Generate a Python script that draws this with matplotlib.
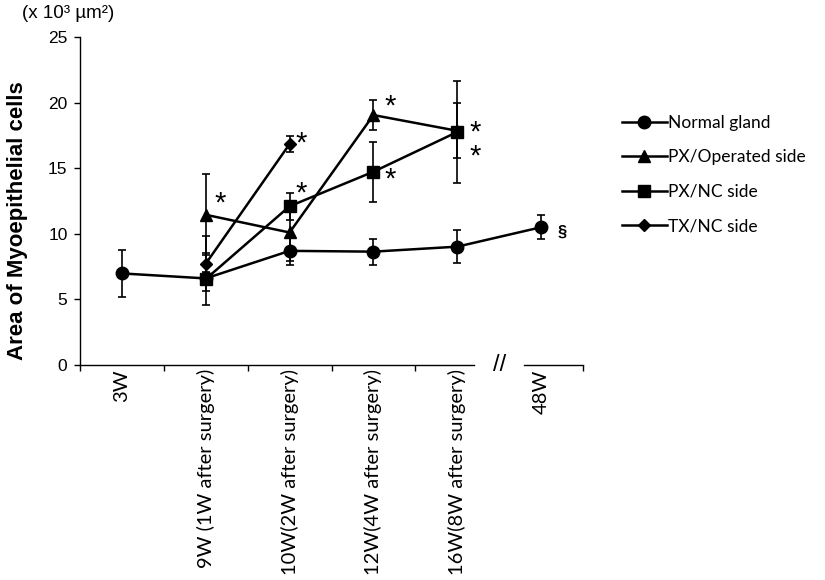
import numpy as np
import matplotlib
matplotlib.use('Agg')
from matplotlib import pyplot as plt

# 数据
weeks = ['3W', '9W (1W after surgery)', '10W(2W after surgery)',
         '12W(4W after surgery)', '16W(8W after surgery)', '48W']
normal = [6.98, 6.6, 8.7, 8.64, 9.02, 10.5]
normal_err = [1.78, 0.5, 1.1, 1.0, 1.27, 0.92]
px_op = [np.nan, 11.45, 10.1, 19.05, 17.85, np.nan]
px_op_err = [0, 3.1, 2.2, 1.17, 2.1, 0]
px_nc = [np.nan, 6.55, 12.1, 14.73, 17.76, np.nan]
px_nc_err = [0, 2.0, 1.04, 2.27, 3.9, 0]
tx_nc = [np.nan, 7.72, 16.84, np.nan, np.nan, np.nan]
tx_nc_err = [0, 2.1, 0.6, 0, 0, 0]

plt.rcParams['font.family'] = ['Liberation Sans', 'DejaVu Sans']

fig = plt.figure(figsize=(8.25, 5.8), dpi=100)
ax = fig.add_axes([80 / 825, 1 - 365 / 580, 503 / 825, 328 / 580])
x = np.arange(len(weeks))

series = [
    ('Normal gland', normal, normal_err, 'o', 9),
    ('PX/Operated side', px_op, px_op_err, '^', 9),
    ('PX/NC side', px_nc, px_nc_err, 's', 8.5),
    ('TX/NC side', tx_nc, tx_nc_err, 'D', 6),
]
for name, y, err, mk, ms in series:
    y = np.array(y, dtype=float)
    ok = ~np.isnan(y)
    ax.errorbar(x[ok], y[ok], yerr=np.array(err)[ok], fmt='none', ecolor='black',
                elinewidth=1.2, capsize=3, capthick=1.2, zorder=2)
    ax.plot(x[ok], y[ok], color='black', lw=1.8, marker=mk, ms=ms,
            mfc='black', mec='black', label=name, zorder=3)

# 显著性标记
def mark(yvals, i, dx, dy, s='*', size=21, weight='normal'):
    ax.annotate(s, (x[i], yvals[i]), xytext=(dx, dy), textcoords='offset pixels',
                ha='center', va='center', fontsize=size, fontweight=weight,
                annotation_clip=False)

mark(px_op, 1, 14, 11)
mark(tx_nc, 2, 12, 0)
mark(px_nc, 2, 12, 13)
mark(px_op, 3, 17, 9)
mark(px_nc, 3, 17, -8)
mark(px_nc, 4, 18, -1)
mark(px_nc, 4, 18, -25)
mark(normal, 5, 21, -5, s='§', size=12, weight='bold')

# 坐标轴
ax.set_xlim(-0.5, 5.5)
ax.set_ylim(0, 25)
ax.set_yticks([0, 5, 10, 15, 20, 25])
ax.tick_params(axis='y', direction='out', length=4, width=1, labelsize=12.5, pad=5)
for s in ['top', 'right', 'bottom']:
    ax.spines[s].set_visible(False)
ax.spines['left'].set_linewidth(1)

ax.set_xticks(x)
ax.set_xticklabels(weeks, rotation=90, fontsize=14.5, family=['Lato', 'DejaVu Sans'])
ax.tick_params(axis='x', which='major', length=0, pad=3)
ax.set_xticks([-0.5, 0.5, 1.5, 2.5, 3.5, 5.5], minor=True)
ax.tick_params(axis='x', which='minor', direction='out', length=4, width=1)

# 断轴
ax.plot([-0.5, 4.2], [0, 0], color='black', lw=1, clip_on=False)
ax.plot([4.8, 5.5], [0, 0], color='black', lw=1, clip_on=False)
ax.text(4.5, 0, '//', ha='center', va='center', fontsize=17, clip_on=False)

fig.text(18 / 825, 1 - 221 / 580, 'Area of Myoepithelial cells', rotation=90,
         ha='center', va='center', fontsize=16, fontweight='bold')
fig.text(22 / 825, 1 - 14 / 580, '(x 10³ µm²)', ha='left', va='center', fontsize=13.5)

ax.legend(loc='upper left', bbox_to_anchor=(606 / 825, 1 - 99 / 580),
          bbox_transform=fig.transFigure, frameon=False,
          handlelength=2.6, handletextpad=0.1, labelspacing=1.07,
          prop={'family': ['Lato', 'DejaVu Sans'], 'size': 12.5})

fig.savefig('out.png', dpi=100)
